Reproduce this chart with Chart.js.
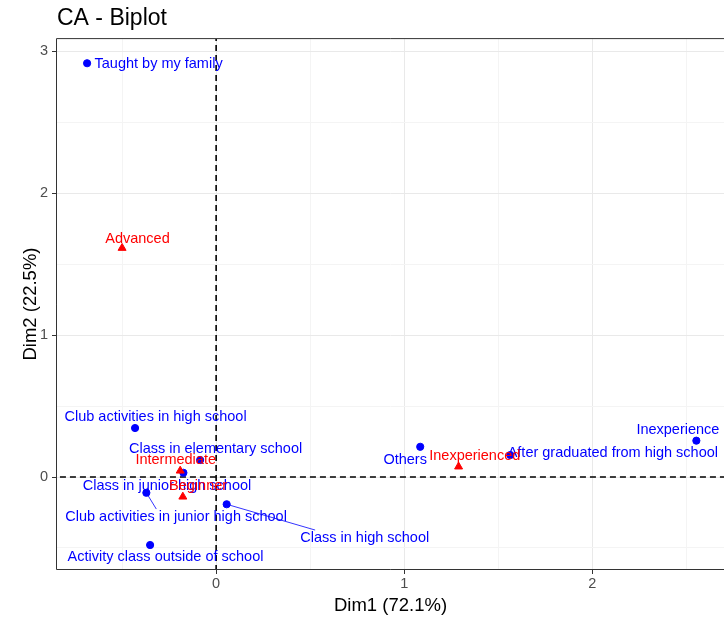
<!DOCTYPE html>
<html>
<head>
<meta charset="utf-8">
<script src="https://cdn.jsdelivr.net/npm/chart.js@4.4.1/dist/chart.umd.min.js"></script>
<style>
  body { margin: 0; background: #fff; }
  #wrap { width: 724px; height: 619px; }
</style>
</head>
<body>
<div id="wrap"><canvas id="caChart" width="724" height="619"></canvas></div>
<script>
// row categories (blue points)
const rowNames = ["Taught by my family", "Club activities in high school", "Class in elementary school",
  "Class in junior high school", "Club activities in junior high school", "Class in high school",
  "Activity class outside of school", "Others", "After graduated from high school", "Inexperience"];
const rowDim1 = [-0.686, -0.431, -0.085, -0.174, -0.371, 0.056, -0.351, 1.085, 1.564, 2.553];
const rowDim2 = [2.915, 0.345, 0.120, 0.030, -0.111, -0.192, -0.479, 0.213, 0.155, 0.256];
// where the repelled labels ended up
const rowLabelX = [-0.306, -0.322, -0.003, -0.261, -0.213, 0.790, -0.269, 1.005, 2.109, 2.455];
const rowLabelY = [2.908, 0.423, 0.197, -0.063, -0.282, -0.430, -0.563, 0.120, 0.169, 0.331];

// column categories (red triangles)
const colNames = ["Advanced", "Intermediate", "Beginner", "Inexperienced"];
const colDim1 = [-0.500, -0.191, -0.177, 1.289];
const colDim2 = [1.613, 0.044, -0.139, 0.073];
const colLabelX = [-0.418, -0.215, -0.096, 1.375];
const colLabelY = [1.676, 0.120, -0.063, 0.148];

// axes
const xGridValues = [-0.5, 0, 0.5, 1, 1.5, 2, 2.5];
const yGridValues = [-0.5, 0, 0.5, 1, 1.5, 2, 2.5, 3];
const xRange = [-0.846, 2.70];
const yRange = [-0.648, 3.085];

const labelFont = "14.5px 'Liberation Sans', Arial, sans-serif";

function toPoints(xs, ys) {
  return xs.map((x, i) => ({ x: x, y: ys[i] }));
}

const isMajor = v => Number.isInteger(v);

// text labels and their leader segments
const repelLabels = {
  id: "repelLabels",
  afterDatasetsDraw(chart) {
    const ctx = chart.ctx;
    const sx = chart.scales.x, sy = chart.scales.y;
    ctx.save();
    ctx.font = labelFont;
    ctx.textAlign = "center";
    ctx.textBaseline = "middle";
    chart.data.datasets.forEach(ds => {
      if (!ds.labels) return;
      ds.data.forEach((p, i) => {
        const px = sx.getPixelForValue(p.x), py = sy.getPixelForValue(p.y);
        const lx = sx.getPixelForValue(ds.labelX[i]), ly = sy.getPixelForValue(ds.labelY[i]);
        const w = ctx.measureText(ds.labels[i]).width / 2 + 2, h = 8;
        const dx = lx - px, dy = ly - py;
        const t = Math.max(dx ? 1 - w / Math.abs(dx) : 0, dy ? 1 - h / Math.abs(dy) : 0, 0);
        const len = t * Math.hypot(dx, dy);
        if (len > 9) {
          // mix of "towards centre" and "nearest edge" end points
          const ex = ((px + t * dx) + Math.min(Math.max(px, lx - w), lx + w)) / 2;
          const ey = ((py + t * dy) + Math.min(Math.max(py, ly - h), ly + h)) / 2;
          ctx.strokeStyle = ds.labelColor;
          ctx.lineWidth = 0.8;
          ctx.beginPath();
          ctx.moveTo(px, py);
          ctx.lineTo(ex, ey);
          ctx.stroke();
        }
      });
    });
    chart.data.datasets.forEach(ds => {
      if (!ds.labels) return;
      ctx.fillStyle = ds.labelColor;
      ds.labels.forEach((txt, i) => {
        ctx.fillText(txt, sx.getPixelForValue(ds.labelX[i]), sy.getPixelForValue(ds.labelY[i]));
      });
    });
    ctx.restore();
  },
  afterDraw(chart) {
    // panel border (right side is cut off in the picture)
    const a = chart.chartArea, ctx = chart.ctx;
    ctx.save();
    ctx.strokeStyle = "#333333";
    ctx.lineWidth = 1;
    ctx.beginPath();
    ctx.moveTo(a.right + 2, a.top - 0.5);
    ctx.lineTo(a.left - 0.5, a.top - 0.5);
    ctx.lineTo(a.left - 0.5, a.bottom + 0.5);
    ctx.lineTo(a.right + 2, a.bottom + 0.5);
    ctx.stroke();
    ctx.restore();
  }
};

const gridOpts = {
  color: c => isMajor(c.tick.value) ? "#e9e9e9" : "#f4f4f4",
  lineWidth: 1,
  tickLength: 5,
  tickColor: c => isMajor(c.tick.value) ? "#333333" : "rgba(0,0,0,0)",
  tickWidth: 1
};

new Chart(document.getElementById("caChart"), {
  type: "scatter",
  data: {
    datasets: [
      {
        label: "zero-x",
        type: "line",
        data: [{ x: 0, y: -2 }, { x: 0, y: 5 }],
        borderColor: "#000000",
        borderWidth: 1.6,
        borderDash: [6, 4],
        pointRadius: 0,
        order: 3
      },
      {
        label: "zero-y",
        type: "line",
        data: [{ x: -2, y: 0 }, { x: 4, y: 0 }],
        borderColor: "#000000",
        borderWidth: 1.6,
        borderDash: [6, 4],
        pointRadius: 0,
        order: 3
      },
      {
        label: "rows",
        data: toPoints(rowDim1, rowDim2),
        labels: rowNames,
        labelX: rowLabelX,
        labelY: rowLabelY,
        labelColor: "#0000ff",
        backgroundColor: "#0000ff",
        borderColor: "#0000ff",
        pointStyle: "circle",
        pointRadius: 3.6,
        order: 2
      },
      {
        label: "cols",
        data: toPoints(colDim1, colDim2),
        labels: colNames,
        labelX: colLabelX,
        labelY: colLabelY,
        labelColor: "#ff0000",
        backgroundColor: "#ff0000",
        borderColor: "#ff0000",
        pointStyle: "triangle",
        pointRadius: 4.6,
        order: 1
      }
    ]
  },
  options: {
    responsive: false,
    animation: false,
    layout: { padding: 0, autoPadding: false },
    plugins: {
      legend: { display: false },
      tooltip: { enabled: false },
      title: {
        display: true,
        text: "CA - Biplot",
        align: "start",
        fullSize: false,
        color: "#000000",
        font: { family: "'Liberation Sans', Arial, sans-serif", size: 23, weight: "normal" },
        padding: { top: 4.5, bottom: 7 }
      }
    },
    scales: {
      x: {
        type: "linear",
        min: xRange[0],
        max: xRange[1],
        afterBuildTicks: s => { s.ticks = xGridValues.map(v => ({ value: v })); },
        afterFit: s => { s.height = 50; s.paddingLeft = 0; s.paddingRight = 0; },
        grid: gridOpts,
        border: { display: false },
        ticks: {
          color: "#4d4d4d",
          padding: 1,
          maxRotation: 0,
          font: { family: "'Liberation Sans', Arial, sans-serif", size: 14.5 },
          callback: v => isMajor(v) ? String(v) : ""
        },
        title: {
          display: true,
          text: "Dim1 (72.1%)",
          color: "#000000",
          font: { family: "'Liberation Sans', Arial, sans-serif", size: 18.5 },
          padding: { top: 0, bottom: 2 }
        }
      },
      y: {
        type: "linear",
        min: yRange[0],
        max: yRange[1],
        afterBuildTicks: s => { s.ticks = yGridValues.map(v => ({ value: v })); },
        afterFit: s => { s.width = 57; s.paddingTop = 0; s.paddingBottom = 0; },
        grid: gridOpts,
        border: { display: false },
        ticks: {
          color: "#4d4d4d",
          padding: 4,
          font: { family: "'Liberation Sans', Arial, sans-serif", size: 14.5 },
          callback: v => isMajor(v) ? String(v) : ""
        },
        title: {
          display: true,
          text: "Dim2 (22.5%)",
          color: "#000000",
          font: { family: "'Liberation Sans', Arial, sans-serif", size: 18.5 },
          padding: { top: 20, bottom: 0 }
        }
      }
    }
  },
  plugins: [repelLabels]
});
</script>
</body>
</html>
